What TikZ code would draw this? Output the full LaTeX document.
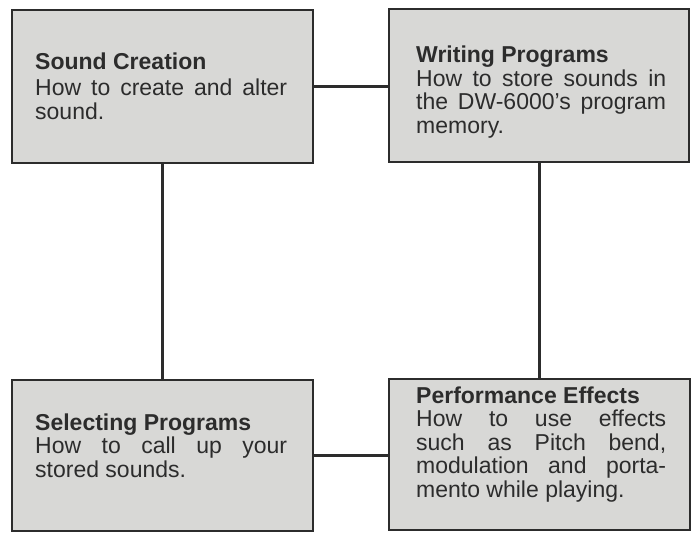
\documentclass[tikz,border=0pt]{standalone}
\usepackage{fontspec}
\setmainfont{Liberation Sans}
\definecolor{cardgray}{HTML}{D8D8D6}
\definecolor{inkgray}{HTML}{2C2C2C}
\tikzset{
	card/.style = {draw = inkgray, line width = 1.2pt, fill = cardgray, inner sep = 0pt},
	blurb/.style = {anchor = base west, inner sep = 0pt, align = justify, text = inkgray,
		font = \fontsize{23}{23.5}\selectfont},
	link/.style = {draw = inkgray, line width = 3pt}
}

\begin{document}
\begin{tikzpicture}[x = 1pt, y = -1pt]
		\useasboundingbox (0,0) rectangle (693,535);

		\node[card, minimum width = 301pt, minimum height = 153pt] at (162.5, 86.5)(sc){};
		\node[card, minimum width = 300pt, minimum height = 153pt] at (539, 85.5)(wp){};
		\node[card, minimum width = 301pt, minimum height = 151pt] at (162.5, 455.5)(sp){};
		\node[card, minimum width = 301pt, minimum height = 151pt] at (539.5, 454.5)(pe){};

		\node[blurb, text width = 252pt, font = \fontsize{23}{25}\selectfont] at (35, 70)(sctext){%
			\textbf{Sound Creation}\\
			How to create and alter\linebreak sound.};
		\node[blurb, text width = 250pt] at (416, 63)(wptext){%
			\textbf{Writing Programs}\\
			How to store sounds in\linebreak the DW-6000's program\linebreak memory.};
		\node[blurb, text width = 252pt] at (35, 430)(sptext){%
			\textbf{Selecting Programs}\\
			How to call up your\linebreak stored sounds.};
		\node[blurb, text width = 250pt] at (416, 403)(petext){%
			\textbf{Performance Effects}\\
			How to use effects\linebreak such as Pitch bend,\linebreak
			modulation and porta-\linebreak mento while playing.};

		\path[link] (sc.east) -- (sc.east -| wp.west);
		\path[link] (sc.south) -- (sc.south |- sp.north);
		\path[link] (wp.south) -- (wp.south |- pe.north);
		\path[link] (sp.east) -- (sp.east -| pe.west);
	\end{tikzpicture}
\end{document}
